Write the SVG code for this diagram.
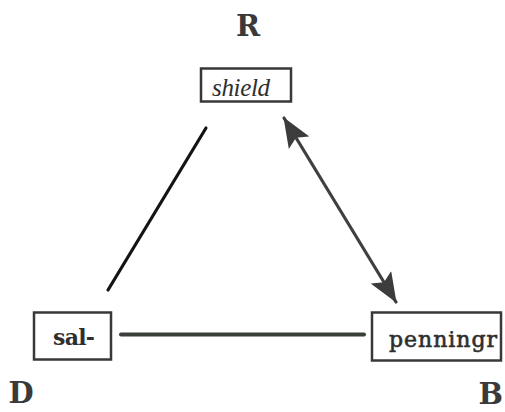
<svg xmlns="http://www.w3.org/2000/svg" width="505" height="412" viewBox="0 0 505 412">
<defs>
<style>
.box{fill:#fff;stroke:#383838;stroke-width:2.5}
.corner{font-family:"DejaVu Serif",serif;font-weight:bold;font-size:29px;fill:#3a3a3a;text-anchor:middle}
.lbl{font-family:"DejaVu Serif",serif;font-size:22px;fill:#2e2e2e;font-weight:bold}
.it{font-family:"Liberation Serif",serif;font-style:italic;font-size:25px;fill:#2e2e2e}
.ln{fill:none;stroke-linecap:round}
</style>
<marker id="ah" viewBox="0 0 30 24" refX="29" refY="12" markerWidth="30" markerHeight="24" markerUnits="userSpaceOnUse" orient="auto-start-reverse">
<path d="M0,0 L30,12 L0,24 L6,12 Z" fill="#3c3c3c"/>
</marker>
</defs>
<rect width="505" height="412" fill="#fff"/>
<g id="connectors">
<line class="ln" x1="206" y1="128" x2="108" y2="290" stroke="#141414" stroke-width="3.2"/>
<line class="ln" x1="121" y1="334.5" x2="364" y2="334.5" stroke="#3a3f3a" stroke-width="4" stroke-linecap="butt"/>
<line class="ln" x1="284" y1="118" x2="396" y2="302" stroke="#404040" stroke-width="3.2" marker-start="url(#ah)" marker-end="url(#ah)"/>
</g>
<g id="label-R"><text class="corner" x="248" y="36">R</text></g>
<g id="label-D"><text class="corner" x="21" y="403">D</text></g>
<g id="label-B"><text class="corner" x="503" y="404" style="text-anchor:end">B</text></g>
<g id="node-shield">
<rect class="box" x="201" y="68.5" width="90" height="33"/>
<text class="it" x="212" y="96" textLength="58">shield</text>
</g>
<g id="node-sal">
<rect class="box" x="34" y="312.5" width="77" height="47"/>
<text class="lbl" x="53" y="345" textLength="42">sal-</text>
</g>
<g id="node-penningr">
<rect class="box" x="372" y="312.5" width="129" height="48"/>
<text class="lbl" x="389" y="347" textLength="108" style="font-weight:normal;stroke:#2e2e2e;stroke-width:0.6">penningr</text>
</g>
</svg>
